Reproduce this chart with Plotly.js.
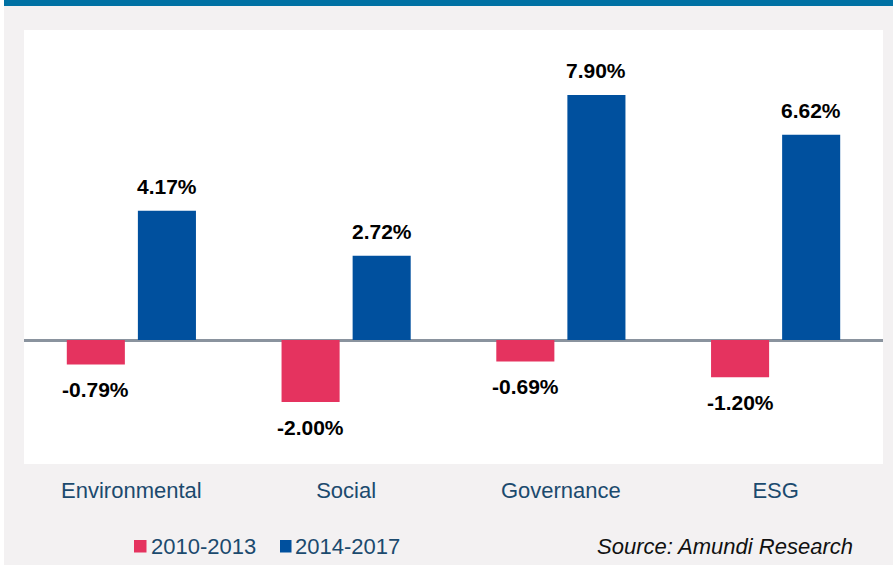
<!DOCTYPE html>
<html>
<head>
<meta charset="utf-8">
<script src="https://cdn.plot.ly/plotly-3.0.1.min.js"></script>
<style>html,body{margin:0;padding:0;background:#fff;}#chart{width:893px;height:565px;}</style>
</head>
<body>
<div id="chart"></div>
<script>
const categories = ["Environmental", "Social", "Governance", "ESG"];
const seriesNames = ["2010-2013", "2014-2017"];
const values2010_2013 = [-0.79, -2.00, -0.69, -1.20];
const values2014_2017 = [4.17, 2.72, 7.90, 6.62];
const sourceText = "Source: Amundi Research";

const RED = "#e5335f", BLUE = "#00509e", TXT = "#1b4a6e";
const FONT = "Arial, 'Liberation Sans', sans-serif";
const fmt = v => v.toFixed(2) + "%";

const traces = [
  {type: "bar", name: seriesNames[0], x: categories, y: values2010_2013, marker: {color: RED}, hoverinfo: "skip"},
  {type: "bar", name: seriesNames[1], x: categories, y: values2014_2017, marker: {color: BLUE}, hoverinfo: "skip"}
];

const annotations = [];
[values2010_2013, values2014_2017].forEach((vals, si) => {
  vals.forEach((v, i) => {
    annotations.push({
      x: categories[i], y: v, xref: "x", yref: "y",
      xshift: si === 0 ? -35.5 : 35.5,
      text: "<b>" + fmt(v) + "</b>", showarrow: false,
      font: {family: FONT, size: 21, color: "#000"},
      yanchor: v >= 0 ? "bottom" : "top",
      yshift: v >= 0 ? 11 : -12
    });
  });
});
// legend texts
const P = px => (px - 24) / 859;      // x pixel -> paper
const Q = py => (464 - py) / 434;      // y pixel -> paper
annotations.push({xref: "paper", yref: "paper", x: P(149), y: Q(546.5), xanchor: "left", yanchor: "middle",
  text: seriesNames[0], showarrow: false, font: {family: FONT, size: 22, color: TXT}});
annotations.push({xref: "paper", yref: "paper", x: P(293), y: Q(546.5), xanchor: "left", yanchor: "middle",
  text: seriesNames[1], showarrow: false, font: {family: FONT, size: 22, color: TXT}});
annotations.push({xref: "paper", yref: "paper", x: P(855), y: Q(546.5), xanchor: "right", yanchor: "middle",
  text: "<i>" + sourceText + "</i>", showarrow: false, font: {family: FONT, size: 22, color: "#111"}});

const shapes = [
  {type: "rect", xref: "paper", yref: "paper", x0: P(4), x1: P(893), y0: Q(6), y1: Q(0), fillcolor: "#0071a4", line: {width: 0}, layer: "above"},
  {type: "rect", xref: "paper", yref: "paper", x0: P(0), x1: P(4), y0: Q(565), y1: Q(0), fillcolor: "#ffffff", line: {width: 0}},
  {type: "rect", xref: "paper", yref: "paper", x0: P(134), x1: P(146.5), y0: Q(552.5), y1: Q(540), fillcolor: RED, line: {width: 0}},
  {type: "rect", xref: "paper", yref: "paper", x0: P(280), x1: P(291.5), y0: Q(552.5), y1: Q(540), fillcolor: BLUE, line: {width: 0}}
];

const layout = {
  width: 893, height: 565,
  margin: {l: 24, r: 10, t: 30, b: 101, pad: 0},
  paper_bgcolor: "#f3f1f2",
  plot_bgcolor: "#ffffff",
  barmode: "group",
  bargap: 0.338,
  bargroupgap: 0.183,
  showlegend: false,
  font: {family: FONT},
  xaxis: {
    type: "category", showgrid: false, showline: false, ticks: "",
    tickfont: {family: FONT, size: 22, color: TXT},
    ticklabelstandoff: 11, fixedrange: true
  },
  yaxis: {
    range: [-4, 10], showgrid: false, showticklabels: false, ticks: "",
    zeroline: true, zerolinecolor: "#8a939e", zerolinewidth: 3, fixedrange: true
  },
  annotations: annotations,
  shapes: shapes
};

Plotly.newPlot("chart", traces, layout, {displayModeBar: false, staticPlot: true});
</script>
</body>
</html>
